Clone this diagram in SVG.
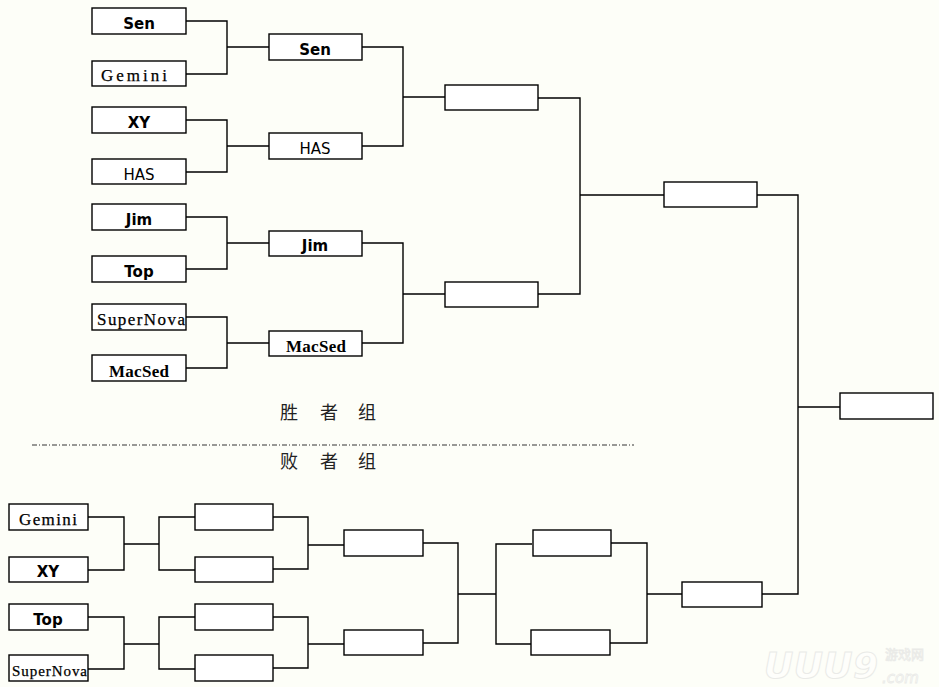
<svg xmlns="http://www.w3.org/2000/svg" width="939" height="687" viewBox="0 0 939 687">
<style>
.bx{fill:#ffffff;stroke:#000;stroke-width:1.4}
.ln{fill:none;stroke:#000;stroke-width:1.4}
.b{font-family:"DejaVu Sans","Liberation Sans",sans-serif;font-weight:bold;font-size:15px;fill:#000;text-anchor:middle}
.r{font-family:"DejaVu Sans","Liberation Sans",sans-serif;font-size:15px;fill:#000;text-anchor:middle}
.m{font-family:"Liberation Serif","DejaVu Serif",serif;font-size:17px;fill:#000;stroke:#000;stroke-width:0.25}
.mb{font-family:"Liberation Serif","DejaVu Serif",serif;font-size:17px;font-weight:bold;fill:#000}
.cj{font-family:"Noto Sans CJK SC",sans-serif;font-size:18px;fill:#222}
</style>
<rect x="0" y="0" width="939" height="687" fill="#fdfef8"/>
<g id="connectors">
<path class="ln" d="M186,21H227V74H186M227,47H269"/>
<path class="ln" d="M186,120H227V172H186M227,146H269"/>
<path class="ln" d="M186,217H227V269H186M227,243H269"/>
<path class="ln" d="M186,317H227V368H186M227,343H269"/>
<path class="ln" d="M362,47H403V146H362M403,97H445"/>
<path class="ln" d="M362,243H403V343H362M403,294H445"/>
<path class="ln" d="M538,98H580V294H538M580,195H664"/>
<path class="ln" d="M757,195H798V594H762M798,407H840"/>
<path class="ln" d="M88,517H124V570H88M124,544H159M195,517H159V570H195"/>
<path class="ln" d="M88,617H124V669H88M124,644H159M195,617H159V669H195"/>
<path class="ln" d="M273,517H308V569H273M308,545H344"/>
<path class="ln" d="M273,617H308V668H273M308,644H344"/>
<path class="ln" d="M423,543H458V643H423M458,594H496M532,544H496V644H531"/>
<path class="ln" d="M611,543H647V643H610M647,594H682"/>
<line x1="32" y1="445" x2="634" y2="445" stroke="#333" stroke-width="1" stroke-dasharray="5 2 1 2"/>
</g>
<g id="w-sen"><rect class="bx" x="92" y="8" width="94" height="26"/><text class="b" x="139" y="29">Sen</text></g>
<g id="w-gemini"><rect class="bx" x="92" y="61" width="94" height="25"/><text class="m" x="101" y="81" textLength="66" lengthAdjust="spacing">Gemini</text></g>
<g id="w-xy"><rect class="bx" x="92" y="107" width="94" height="26"/><text class="b" x="139" y="128">XY</text></g>
<g id="w-has"><rect class="bx" x="92" y="159" width="94" height="25"/><text class="r" x="139" y="180">HAS</text></g>
<g id="w-jim"><rect class="bx" x="92" y="204" width="94" height="26"/><text class="b" x="139" y="225">Jim</text></g>
<g id="w-top"><rect class="bx" x="92" y="256" width="94" height="26"/><text class="b" x="139" y="277">Top</text></g>
<g id="w-supernova"><rect class="bx" x="92" y="304" width="94" height="26"/><text class="m" x="97" y="325" textLength="88" lengthAdjust="spacing">SuperNova</text></g>
<g id="w-macsed"><rect class="bx" x="92" y="355" width="94" height="26"/><text class="mb" x="109" y="377" textLength="60" lengthAdjust="spacing">MacSed</text></g>
<g id="w2-sen"><rect class="bx" x="269" y="34" width="93" height="26"/><text class="b" x="315" y="55">Sen</text></g>
<g id="w2-has"><rect class="bx" x="269" y="133" width="93" height="26"/><text class="r" x="315" y="154">HAS</text></g>
<g id="w2-jim"><rect class="bx" x="269" y="231" width="93" height="25"/><text class="b" x="315" y="251">Jim</text></g>
<g id="w2-macsed"><rect class="bx" x="269" y="331" width="93" height="25"/><text class="mb" x="286" y="352" textLength="60" lengthAdjust="spacing">MacSed</text></g>
<g id="w3-a"><rect class="bx" x="445" y="85" width="93" height="25"/></g>
<g id="w3-b"><rect class="bx" x="445" y="282" width="93" height="25"/></g>
<g id="w4"><rect class="bx" x="664" y="182" width="93" height="25"/></g>
<g id="final"><rect class="bx" x="840" y="393" width="93" height="26"/></g>
<g id="label-win"><text class="cj" x="280" y="419">胜</text><text class="cj" x="320" y="419">者</text><text class="cj" x="358" y="419">组</text></g>
<g id="label-lose"><text class="cj" x="280" y="468">败</text><text class="cj" x="320" y="468">者</text><text class="cj" x="358" y="468">组</text></g>
<g id="l-gemini"><rect class="bx" x="9" y="504" width="79" height="26"/><text class="m" x="19" y="525" textLength="58" lengthAdjust="spacing">Gemini</text></g>
<g id="l-xy"><rect class="bx" x="9" y="557" width="79" height="25"/><text class="b" x="48" y="577">XY</text></g>
<g id="l-top"><rect class="bx" x="9" y="604" width="79" height="26"/><text class="b" x="48" y="625">Top</text></g>
<g id="l-supernova"><rect class="bx" x="9" y="655" width="79" height="26"/><text class="m" x="12" y="676" style="font-size:15px" textLength="75" lengthAdjust="spacing">SuperNova</text></g>
<g id="l2-a"><rect class="bx" x="195" y="504" width="78" height="26"/></g>
<g id="l2-b"><rect class="bx" x="195" y="557" width="78" height="25"/></g>
<g id="l2-c"><rect class="bx" x="195" y="604" width="78" height="26"/></g>
<g id="l2-d"><rect class="bx" x="195" y="655" width="78" height="26"/></g>
<g id="l3-a"><rect class="bx" x="344" y="530" width="79" height="26"/></g>
<g id="l3-b"><rect class="bx" x="344" y="630" width="79" height="25"/></g>
<g id="l4-a"><rect class="bx" x="533" y="530" width="78" height="26"/></g>
<g id="l4-b"><rect class="bx" x="531" y="630" width="79" height="25"/></g>
<g id="l5"><rect class="bx" x="682" y="582" width="80" height="25"/></g>
<g id="watermark" opacity="0.5">
<text x="764" y="678" font-family="'DejaVu Sans',sans-serif" font-size="36" font-style="italic" font-weight="bold" fill="#ffffff" stroke="#d8d8d8" stroke-width="1" textLength="114">UUU9</text>
<text x="885" y="659" font-family="'Noto Sans CJK SC',sans-serif" font-size="13" fill="#ffffff" stroke="#d8d8d8" stroke-width="0.8">游戏网</text>
<text x="882" y="683" font-family="'DejaVu Sans',sans-serif" font-size="15" font-style="italic" fill="#ffffff" stroke="#d8d8d8" stroke-width="0.8">.com</text>
</g>
</svg>
